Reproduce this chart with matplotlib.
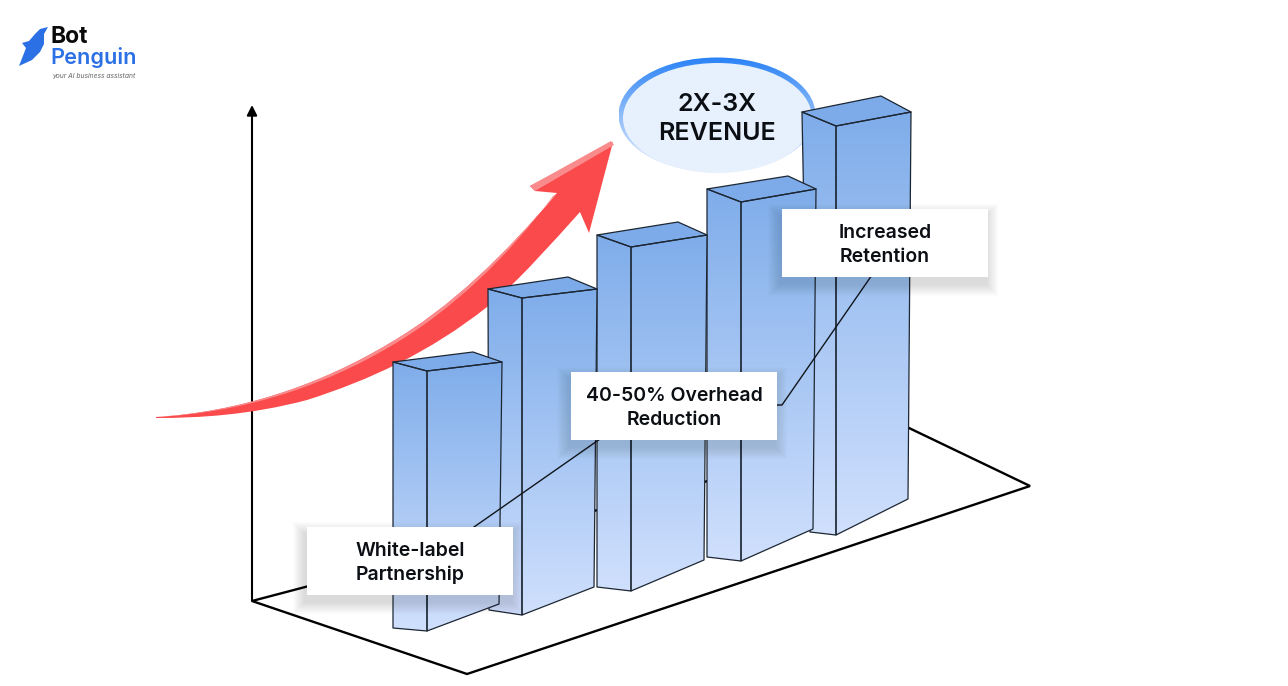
import numpy as np
import matplotlib
matplotlib.use("Agg")
import matplotlib.pyplot as plt
from matplotlib.colors import LinearSegmentedColormap
from matplotlib.patches import Ellipse, Polygon, PathPatch, Rectangle
from matplotlib.path import Path

plt.rcParams['font.family'] = ['Inter', 'DejaVu Sans']

W, H = 1288, 686

# bars, back to front. top: left, front, back, right / bottom: left, front, right
bar_tops = [
    [(802, 112), (836, 126), (881, 96), (911, 112)],
    [(707, 189), (741, 202), (788, 176), (816, 189)],
    [(597, 235), (631, 247), (678, 222), (707, 235)],
    [(488, 289), (522, 298), (568, 277), (597, 289)],
    [(393, 362), (427, 371), (473, 352), (502, 362)],
]
bar_bottoms = [
    [(810, 532), (836, 535), (908, 499)],
    [(707, 557), (741, 561), (813, 529)],
    [(597, 587), (631, 591), (704, 560)],
    [(489, 610), (522, 615), (594, 587)],
    [(393, 628), (427, 631), (499, 604)],
]

floor_pts = [(252, 601), (467, 674), (1030, 486), (909, 428)]
axis_pts = [(252, 601), (252, 105)]
leader_1 = [(474, 527), (610, 432)]
leader_2 = [(776, 405), (782, 405), (872, 275)]

box_labels = ["White-label\nPartnership", "40-50% Overhead\nReduction", "Increased\nRetention"]
box_rects = [(307, 527, 206, 68), (571, 372, 206, 68), (782, 209, 206, 68)]

bubble_text = "2X-3X\nREVENUE"

# arrow outline: tail, upper edge, barb, tip, barb, notch, lower edge back to tail
arrow_verts = [
    (156, 417), (240, 412), (320, 385), (390, 343), (450, 308), (505, 255), (557, 193),
    (535, 191), (530, 186), (613, 142), (589, 233), (580, 212),
    (550, 245), (520, 280), (487, 307), (430, 352), (370, 380), (307, 400),
    (250, 415), (200, 418), (156, 418),
]
arrow_codes = [Path.MOVETO] + [Path.CURVE4] * 6 + [Path.LINETO] * 5 + [Path.CURVE4] * 9
arrow_light = [
    (156, 417), (240, 412), (320, 385), (390, 343), (450, 308), (505, 255), (557, 193),
    (553, 196), (507, 258), (451, 311), (391, 346), (320, 388), (240, 413), (156, 417),
]
arrow_light_codes = [Path.MOVETO] + [Path.CURVE4] * 6 + [Path.LINETO] + [Path.CURVE4] * 6
head_light = [(530, 186), (611, 141), (614, 145), (535, 191)]

penguin = [(48, 27), (40, 29), (35, 34), (29, 41), (22, 43), (26, 48),
           (19, 66), (32, 60), (40, 52), (44, 44), (44, 34)]

BAR_TOP = "#7fadea"
BAR_BOTTOM = "#d0e0fd"
EDGE = "#1d2733"
BLUE = "#2b70e4"

bar_cmap = LinearSegmentedColormap.from_list("bar", [BAR_TOP, BAR_BOTTOM])
ring_cmap = LinearSegmentedColormap.from_list("ring", ["#2a82f6", "#8fbcf8", "#e4eefd"])
grad = np.linspace(0, 1, 256).reshape(-1, 1)


def gradient_fill(ax, patch, cmap, x0, x1, y0, y1, z):
    ax.add_patch(patch)
    patch.set_facecolor("none")
    patch.set_edgecolor("none")
    im = ax.imshow(grad, cmap=cmap, extent=(x0, x1, y1, y0), aspect="auto", zorder=z)
    im.set_clip_path(patch)


def draw_bar(ax, top, bottom, z):
    tl, tf, tb, tr = top
    bl, bf, br = bottom
    y0, y1 = tl[1], bf[1]
    for face in ([tl, tf, bf, bl], [tf, tr, br, bf]):
        xs = [p[0] for p in face]
        gradient_fill(ax, Polygon(face, closed=True, zorder=z), bar_cmap, min(xs), max(xs), y0, y1, z)
        ax.add_patch(Polygon(face, closed=True, fc="none", ec=EDGE, lw=0.9, zorder=z + 0.2, joinstyle="round"))
    ax.add_patch(Polygon([tl, tb, tr, tf], closed=True, fc="#7dabe9", ec=EDGE, lw=0.9, zorder=z + 0.1, joinstyle="round"))


def draw_box(ax, rect, label):
    x, y, w, h = rect
    for g in range(12, 0, -1):
        ax.add_patch(Rectangle((x - g - 2, y - g + 7), w + 2 * g, h + 2 * g, fc="#223", ec="none",
                               alpha=0.013, zorder=20))
    ax.add_patch(Rectangle((x, y), w, h, fc="white", ec="none", zorder=21))
    ax.text(x + w / 2, y + h / 2 + 2, label, ha="center", va="center", fontsize=14, fontweight=600,
            color="#0b0f14", linespacing=1.36, zorder=22)


fig = plt.figure(figsize=(W / 100, H / 100), dpi=100, facecolor="white")
ax = fig.add_axes([0, 0, 1, 1])
ax.axis("off")

# floor and y axis
ax.add_patch(Polygon(floor_pts, closed=True, fc="white", ec="black", lw=1.7, zorder=1, joinstyle="miter"))
ax.annotate("", xy=axis_pts[1], xytext=axis_pts[0], zorder=2,
            arrowprops=dict(arrowstyle="-|>,head_width=0.3,head_length=0.6", color="black", lw=1.5,
                            shrinkA=0, shrinkB=0))

# revenue bubble
gradient_fill(ax, Ellipse((717, 115), 197, 115, zorder=3), ring_cmap, 619, 816, 57, 173, 3)
ax.add_patch(Ellipse((717.5, 118), 189, 110, fc="#e7f0fd", ec="none", zorder=3.5))
ax.text(717, 119, bubble_text, ha="center", va="center", fontsize=18, fontweight=600,
        color="#0b0f14", linespacing=1.28, zorder=4)

# red arrow sits behind the bars
ax.add_patch(PathPatch(Path(arrow_verts, arrow_codes), fc="#fb4a4c", ec="none", zorder=4.5))
ax.add_patch(PathPatch(Path(arrow_light, arrow_light_codes), fc="#f98b8d", ec="none", zorder=4.6))
ax.add_patch(Polygon(head_light, closed=True, fc="#f98b8d", ec="none", zorder=4.6))

# bars
for i, (top, bottom) in enumerate(zip(bar_tops, bar_bottoms)):
    draw_bar(ax, top, bottom, 5 + i)

# leader lines
for line in (leader_1, leader_2):
    ax.plot([p[0] for p in line], [p[1] for p in line], color="#11161c", lw=1.0, zorder=15)

for rect, label in zip(box_rects, box_labels):
    draw_box(ax, rect, label)

# logo
ax.add_patch(Polygon(penguin, closed=True, fc=BLUE, ec="none", zorder=30))
ax.text(51, 37, "Bot", fontsize=16.5, fontweight=700, color="#0a0a0a", va="center", ha="left", zorder=30)
ax.text(50, 58, "Penguin", fontsize=15.6, fontweight=600, color=BLUE, va="center", ha="left", zorder=30)
ax.text(52, 76, "your AI business assistant", fontsize=4.85, style="italic", color="#666666",
        va="center", ha="left", zorder=30)

ax.set_xlim(0, W)
ax.set_ylim(H, 0)
fig.savefig("out.png", dpi=100, facecolor="white")
